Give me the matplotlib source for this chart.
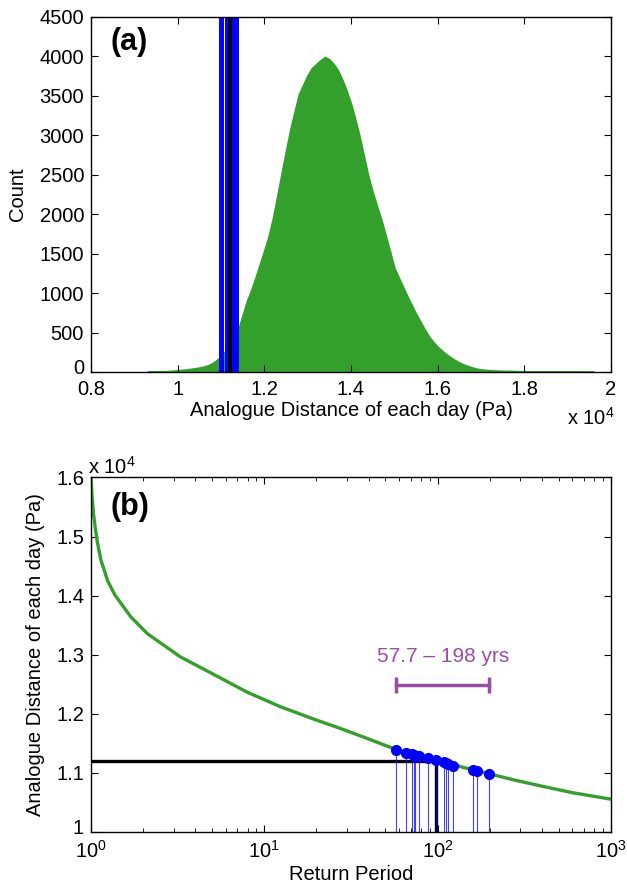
import numpy as np
import matplotlib
matplotlib.use("Agg")
import matplotlib.pyplot as plt
import matplotlib.transforms as mtransforms
from matplotlib.ticker import FormatStrFormatter, LogLocator, NullFormatter

plt.rcParams['font.family'] = ['Liberation Sans', 'DejaVu Sans']
plt.rcParams['mathtext.fontset'] = 'custom'
plt.rcParams['mathtext.rm'] = 'Liberation Sans'
plt.rcParams['mathtext.default'] = 'regular'

# ---- panel (a): histogram of analogue distances (x 10^4 Pa) ----
bin_start = 0.93
bin_width = 0.01
counts = [3, 4, 5, 7, 9, 12, 16, 21, 27, 33,
          40, 47, 56, 68, 85, 110, 150, 200, 260, 330,
          420, 540, 720, 900, 1040, 1200, 1370, 1540, 1720, 1950,
          2230, 2520, 2800, 3070, 3300, 3520, 3640, 3760, 3850, 3900,
          3950, 3990, 3960, 3900, 3820, 3700, 3560, 3400, 3200, 2980,
          2730, 2480, 2280, 2100, 1930, 1730, 1530, 1320, 1200, 1080,
          960, 850, 740, 640, 540, 450, 380, 320, 270, 225,
          185, 150, 120, 95, 75, 58, 42, 33, 27, 23,
          20, 17, 15, 14, 13, 11, 10, 9, 8, 8,
          7, 7, 6, 6, 5, 5, 5, 4, 4, 4,
          3, 3, 3, 3]
event_threshold = 1.12

# ---- panel (b): return period curve ----
curve_rp = [1.0, 1.0133, 1.0336, 1.0612, 1.0896, 1.1412, 1.2517, 1.3735, 1.6963, 2.1231,
            3.2828, 5.1357, 8.0, 12.3, 20, 28, 40, 57.7, 75, 100, 140, 198, 282, 400, 600, 1000]
curve_val = [1.600, 1.570, 1.539, 1.512, 1.490, 1.460, 1.424, 1.401, 1.364, 1.335,
             1.296, 1.266, 1.236, 1.212, 1.189, 1.174, 1.157, 1.139, 1.129, 1.121,
             1.109, 1.098, 1.087, 1.077, 1.066, 1.055]

event_rp = [57.7, 65.9, 71.3, 72.8, 74.2, 77.8, 88.4, 98.0, 108.8, 111.7, 115.2, 123, 159.6, 169.6, 198]
event_val = [1.139, 1.134, 1.131, 1.130, 1.129, 1.128, 1.125, 1.121, 1.118, 1.117, 1.115,
             1.112, 1.105, 1.103, 1.098]
threshold_rp = 98.0
range_rp = [57.7, 198]
range_y = 1.248
range_text = '57.7 \u2013 198 yrs'

green = '#33a02c'
purple = '#984ea3'
fs = 14.5

fig = plt.figure(figsize=(6.27, 8.91), dpi=100)
ax1 = fig.add_axes([0.1451, 0.5825, 0.8293, 0.3988])
ax2 = fig.add_axes([0.1451, 0.0666, 0.8293, 0.3975])

centers = bin_start + bin_width * np.arange(len(counts))
ax1.fill_between(centers, counts, 0, color=green, lw=1.2)
for v in event_val:
    ax1.axvline(v, color='blue', lw=1.4)
ax1.axvline(event_threshold, color='black', lw=2.6)
ax1.set_xlim(0.8, 2.0)
ax1.set_ylim(0, 4500)
ax1.set_xticks(np.arange(0.8, 2.01, 0.2))
ax1.set_yticks(np.arange(0, 4501, 500))
ax1.xaxis.set_major_formatter(FormatStrFormatter('%g'))
ax1.set_xlabel('Analogue Distance of each day (Pa)', fontsize=fs, labelpad=1)
ax1.set_ylabel('Count', fontsize=fs)
ax1.yaxis.set_label_coords(-0.123, 0.5)
ax1.text(0.915, -0.13, r'x 10$^4$', transform=ax1.transAxes, fontsize=fs, ha='left', va='center')
ax1.text(0.037, 0.97, '(a)', transform=ax1.transAxes, fontsize=22, fontweight='bold', va='top')

ax2.plot(curve_rp, curve_val, color=green, lw=2.4, zorder=2)
ax2.plot([1, threshold_rp], [event_threshold, event_threshold], color='black', lw=2.4, zorder=3)
ax2.plot([threshold_rp, threshold_rp], [1.0, event_threshold], color='black', lw=2.4, zorder=3)
ax2.vlines(event_rp, 1.0, event_val, color='blue', lw=0.8, alpha=0.75, zorder=4)
ax2.plot(event_rp, event_val, 'o', color='blue', ms=7, zorder=5)
ax2.plot(range_rp, [range_y, range_y], color=purple, lw=2.5, marker='|', ms=11, mew=2.5)
ax2.text(np.sqrt(range_rp[0] * range_rp[1]), 1.296, range_text, color=purple,
         fontsize=15, ha='center', va='center')
ax2.set_xscale('log')
ax2.set_xlim(1, 1000)
ax2.set_ylim(1.0, 1.6)
ax2.set_yticks(np.arange(1.0, 1.61, 0.1))
ax2.yaxis.set_major_formatter(FormatStrFormatter('%g'))
ax2.xaxis.set_minor_locator(LogLocator(base=10, subs=np.arange(2, 10)))
ax2.xaxis.set_minor_formatter(NullFormatter())
ax2.set_xlabel('Return Period', fontsize=fs, labelpad=2)
ax2.set_ylabel('Analogue Distance of each day (Pa)', fontsize=fs)
ax2.yaxis.set_label_coords(-0.088, 0.5)
ax2.text(-0.005, 1.03, r'x 10$^4$', transform=ax2.transAxes, fontsize=fs, ha='left', va='center')
ax2.text(0.037, 0.96, '(b)', transform=ax2.transAxes, fontsize=22, fontweight='bold', va='top')

lift = mtransforms.ScaledTranslation(0, 5 / 100, fig.dpi_scale_trans)
for ax in (ax1, ax2):
    ax.tick_params(which='both', direction='in', top=True, right=True, labelsize=fs)
    ax.tick_params(which='major', length=5, width=0.8)
    ax.tick_params(which='minor', length=3, width=0.6)
    ax.tick_params(axis='x', pad=6)
    ax.tick_params(axis='y', pad=5)
    for s in ax.spines.values():
        s.set_linewidth(1.0)
    # lowest y label sits a little above the axis corner, as in the original
    lab = ax.yaxis.get_major_ticks()[0].label1
    lab.set_transform(lab.get_transform() + lift)

fig.savefig('out.png', dpi=100)
